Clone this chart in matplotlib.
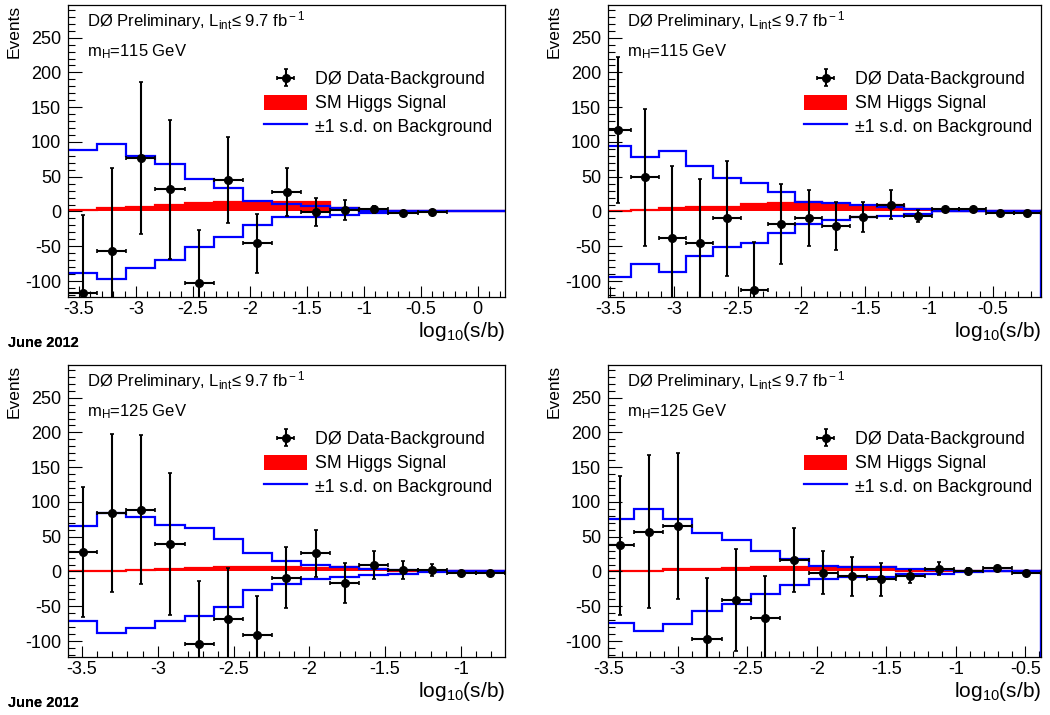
import numpy as np
import matplotlib
matplotlib.use("Agg")
import matplotlib.pyplot as plt
from matplotlib.ticker import MultipleLocator, FormatStrFormatter

plt.rcParams["font.family"] = ["Liberation Sans", "DejaVu Sans"]
plt.rcParams["mathtext.fontset"] = "custom"
plt.rcParams["mathtext.rm"] = "Liberation Sans"
plt.rcParams["mathtext.it"] = "Liberation Sans:italic"
plt.rcParams["axes.unicode_minus"] = False

# log10(s/b) binning of each panel (bin edges) and visible x range
tl_edges = np.linspace(-3.596, 0.24, 16)
tl_xlim = (-3.596, 0.24)
tr_edges = np.linspace(-3.549, -0.121, 17)
tr_xlim = (-3.517, -0.121)
bl_edges = np.linspace(-3.592, -0.709, 16)
bl_xlim = (-3.592, -0.709)
br_edges = np.linspace(-3.52, -0.388, 16)
br_xlim = (-3.501, -0.388)

# top left, m_H = 115 GeV
tl_data = [-117, -57, 77, 32, -103, 45, -46, 28, -1, 2, 3, -2, -1]
tl_err = [112, 120, 109, 100, 77, 62, 43, 35, 20, 14, 5, 2, 1]
tl_sig = [2, 4.6, 7, 10, 11.8, 13, 14, 14, 13, 4.6, 0, 0, 0, 0, 0]
tl_up = [88.5, 96.7, 80.3, 68.3, 46.8, 33.4, 15.1, 10.8, 8, 4.6, 1, 0, 0, 0, 0]
tl_dn = [-89, -96.7, -80.9, -69.8, -50.6, -37.1, -19.4, -8.3, -7.5, -5, -2.6, 0, 0, 0, 0]

# top right, m_H = 115 GeV
tr_data = [117, 49, -38, -46, -10, -113, -18, -9, -21, -8, 10, -6.5, 3, 3, -1.7, -1.7]
tr_err = [105, 98, 104, 93, 83, 69, 58, 40, 35, 22, 21, 8, 2, 2, 1, 1]
tr_sig = [0.7, 1.5, 4.6, 6, 7, 10.4, 12.7, 14, 11, 7, 9.4, 3.2, 0, 0, 0, 0]
tr_up = [94.7, 78.9, 87.5, 65.5, 47.8, 41.4, 27.6, 14.1, 11.8, 9, 7, 3, 0, 0, 0, 0]
tr_dn = [-93.8, -75.5, -86.6, -63.6, -50.6, -45.8, -31.4, -18.4, -12.2, -8.3, -6.5, -4, 0, 0, 0, 0]

# bottom left, m_H = 125 GeV
bl_data = [28, 84, 89, 40, -105, -69, -92, -9, 26, -17, 9, 2.4, 2.4, -1.9, -1.9]
bl_err = [94, 114, 107, 102, 92, 74, 57, 44, 34, 28.5, 20, 13, 8.5, 1, 1]
bl_sig = [0.5, 1.4, 2.4, 3.8, 5.3, 6.2, 6.2, 6.2, 5.3, 6, 3.8, 0, 0, 0, 0]
bl_up = [65.2, 83.9, 78.1, 66.2, 62.8, 47, 26.9, 14.8, 10, 7, 4, 2, 1, 0, 0]
bl_dn = [-70.5, -88.7, -81.5, -70.5, -64.3, -51.3, -27.3, -18.7, -10.6, -8, -5, -3, -1, 0, 0]

# bottom right, m_H = 125 GeV
br_data = [38, 57, 66, -97, -41, -67, 17, -2, -7, -11.5, -7, 4, 1.4, 5, -1.9]
br_err = [100, 110, 105, 87, 74, 61, 46, 31, 28, 23.5, 9, 9.5, 3, 3, 1]
br_sig = [0.5, 1.4, 2.9, 3.8, 5.3, 6.2, 6.2, 5.3, 6, 6, 0, 0, 0, 0, 0]
br_up = [75.8, 90.2, 75.8, 55.1, 44.6, 28.8, 17.3, 7.2, 6.2, 6, 3, 2, 1, 0.5, 0]
br_dn = [-74.3, -85.9, -75.3, -57.1, -46.5, -32.1, -20.1, -10.6, -8.2, -8, -4, -3, -1, 0, 0]

YLIM = (-123, 297)
W, H = 1050, 715

panels = [
    # axes box in pixels (left, top, width), mass, edges, xlim, data..., closing edge
    ((68, 5, 437), 115, tl_edges, tl_xlim, tl_data, tl_err, tl_sig, tl_up, tl_dn, False),
    ((608, 5, 433), 115, tr_edges, tr_xlim, tr_data, tr_err, tr_sig, tr_up, tr_dn, True),
    ((68, 365, 437), 125, bl_edges, bl_xlim, bl_data, bl_err, bl_sig, bl_up, bl_dn, False),
    ((608, 365, 433), 125, br_edges, br_xlim, br_data, br_err, br_sig, br_up, br_dn, True),
]

fig = plt.figure(figsize=(W / 100, H / 100), dpi=100)
AX_H = 292

for (px, py, pw), mass, edges, xlim, data, err, sig, up, dn, closed in panels:
    ax = fig.add_axes([px / W, 1 - (py + AX_H) / H, pw / W, AX_H / H])
    centers = 0.5 * (edges[:-1] + edges[1:])
    half = 0.5 * np.diff(edges)
    n = len(data)

    sig_h = ax.stairs(sig, edges, fill=True, color="red", baseline=0, zorder=1)
    ax.stairs(sig, edges, color="red", lw=1.6, baseline=0, zorder=1)
    up_h = ax.stairs(up, edges, color="blue", lw=1.6, baseline=None, zorder=2)
    ax.stairs(dn, edges, color="blue", lw=1.6, baseline=None, zorder=2)
    if closed:
        ax.plot([edges[-1], edges[-1]], [dn[-1], YLIM[0]], color="blue", lw=2.4, zorder=2)
    eb = ax.errorbar(centers[:n], data, yerr=err, xerr=half[:n], fmt="o", color="black",
                     ms=5.5, lw=1.5, capsize=1.2, capthick=1.2, zorder=3)

    ax.set_xlim(*xlim)
    ax.set_ylim(*YLIM)
    ax.xaxis.set_major_locator(MultipleLocator(0.5))
    ax.xaxis.set_minor_locator(MultipleLocator(0.1))
    ax.yaxis.set_major_locator(MultipleLocator(50))
    ax.yaxis.set_minor_locator(MultipleLocator(10))
    ax.xaxis.set_major_formatter(FormatStrFormatter("%g"))
    ax.tick_params(axis="both", which="both", direction="in", top=False, right=False,
                   width=0.8, labelsize=13)
    ax.tick_params(axis="y", which="major", length=10, pad=5)
    ax.tick_params(axis="y", which="minor", length=5)
    ax.tick_params(axis="x", which="major", length=8, pad=3)
    ax.tick_params(axis="x", which="minor", length=4)
    for s in ax.spines.values():
        s.set_linewidth(0.9)

    ax.set_ylabel("Events", loc="top", fontsize=12.5)
    ax.yaxis.set_label_coords(-46 / pw, 1.0)
    ax.set_xlabel(r"log$_{\rm 10}$(s/b)", loc="right", fontsize=15)
    ax.xaxis.set_label_coords(1.0, -0.08)

    ax.text(19 / pw, 0.928, r"DØ Preliminary, L$_{\rm int}$≤ 9.7 fb$^{\rm -1}$",
            transform=ax.transAxes, fontsize=12, va="baseline")
    ax.text(19 / pw, 0.823, r"m$_{\rm H}$=%d GeV" % mass,
            transform=ax.transAxes, fontsize=12, va="baseline")

    ax.legend([eb, sig_h, up_h],
              ["DØ Data-Background", "SM Higgs Signal", "±1 s.d. on Background"],
              loc="upper left", bbox_to_anchor=(196 / pw, 0.775), frameon=False,
              fontsize=12.8, handlelength=2.42, handleheight=0.95, handletextpad=0.45,
              labelspacing=0.34, borderpad=0, borderaxespad=0)

    fig.text(8 / W, 1 - (py + 342) / H, "June 2012", fontsize=10.5, fontweight="bold",
             va="baseline")

fig.savefig("out.png", dpi=100)
